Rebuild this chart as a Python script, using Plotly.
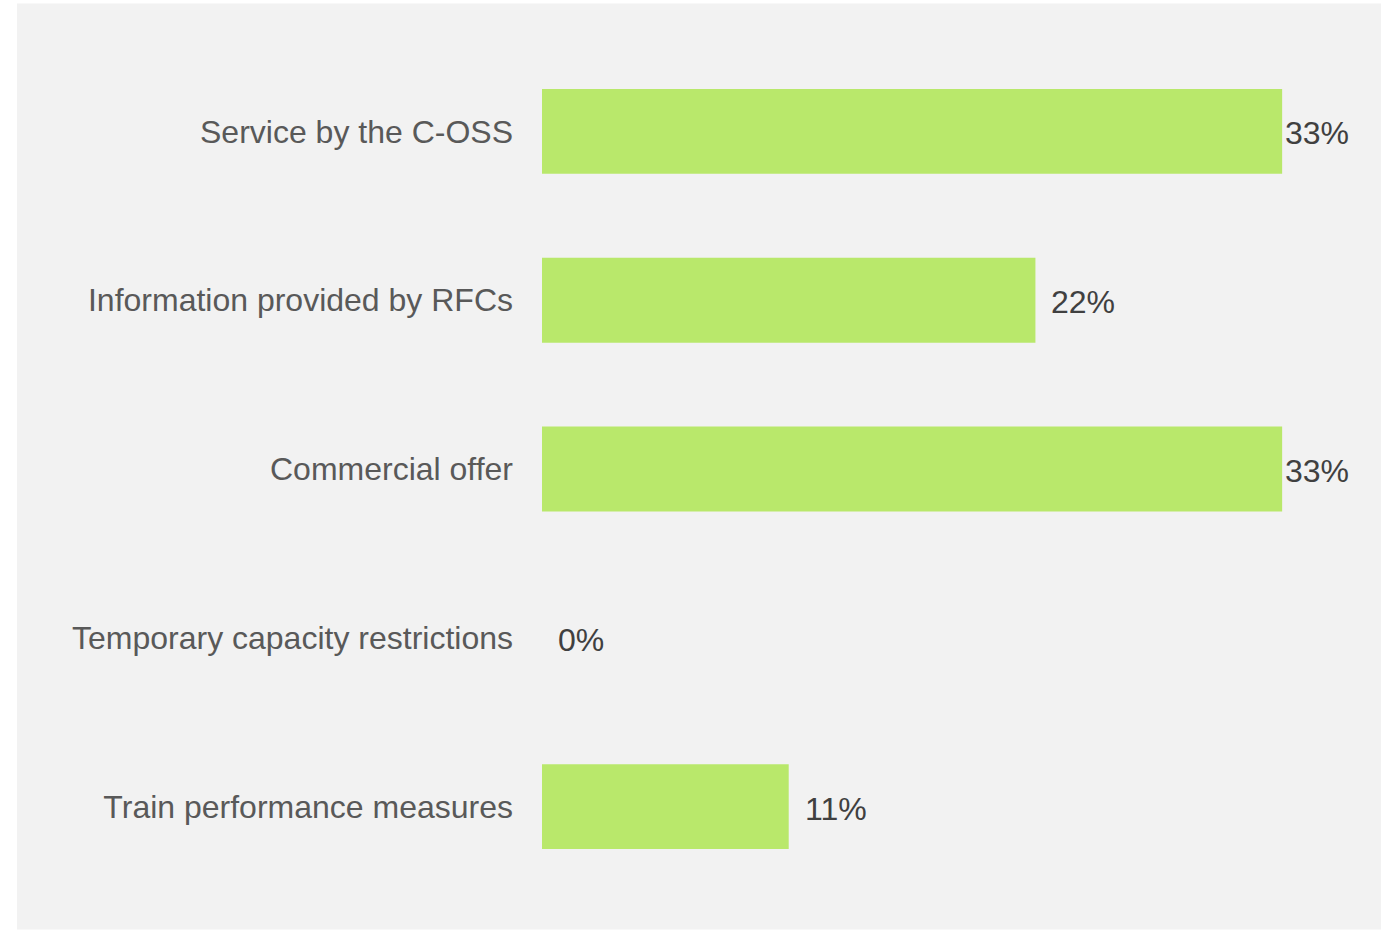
import plotly.graph_objects as go

# Survey topics and their share of responses (%)
categories = [
    "Service by the C-OSS",
    "Information provided by RFCs",
    "Commercial offer",
    "Temporary capacity restrictions",
    "Train performance measures",
]
shares = [33, 22, 33, 0, 11]
share_labels = ["33%", "22%", "33%", "0%", "11%"]

W, H = 1394, 930
ML, MR, MT, MB = 542, 67, 46.5, 38.5
X_MAX = 35.0
plot_w = W - ML - MR
plot_h = H - MT - MB
FONT = "Liberation Sans, Arial, sans-serif"

fig = go.Figure()
fig.add_trace(go.Bar(
    x=shares,
    y=categories,
    orientation="h",
    marker=dict(color="#b9e86b", line=dict(width=0)),
    hoverinfo="skip",
))

# value labels just past the bar end, kept inside the panel
pad = 0.62
cap = 33.05
for cat, v, lab in zip(categories, shares, share_labels):
    fig.add_annotation(
        x=min(v + pad, cap), y=cat, text=lab, showarrow=False,
        xanchor="left", yanchor="middle", yshift=-2,
        font=dict(family=FONT, size=32, color="#404040"),
    )

# light grey chart panel
def px_x(p):
    return (p - ML) / plot_w

def px_y(p):
    return 1 - (p - MT) / plot_h

fig.add_shape(
    type="rect", xref="paper", yref="paper",
    x0=px_x(17), x1=px_x(1381), y0=px_y(930), y1=px_y(3),
    fillcolor="#f2f2f2", line=dict(width=0), layer="below",
)

fig.update_layout(
    width=W, height=H,
    margin=dict(l=ML, r=MR, t=MT, b=MB, pad=0),
    paper_bgcolor="white",
    plot_bgcolor="rgba(0,0,0,0)",
    showlegend=False,
    bargap=0.497,
    font=dict(family=FONT),
    xaxis=dict(range=[0, X_MAX], visible=False, fixedrange=True),
    yaxis=dict(
        autorange="reversed",
        showline=False, showgrid=False, zeroline=False,
        ticks="", ticklabelstandoff=28,
        tickfont=dict(family=FONT, size=32, color="#595959"),
        fixedrange=True,
    ),
)

fig.write_html("out.html")
